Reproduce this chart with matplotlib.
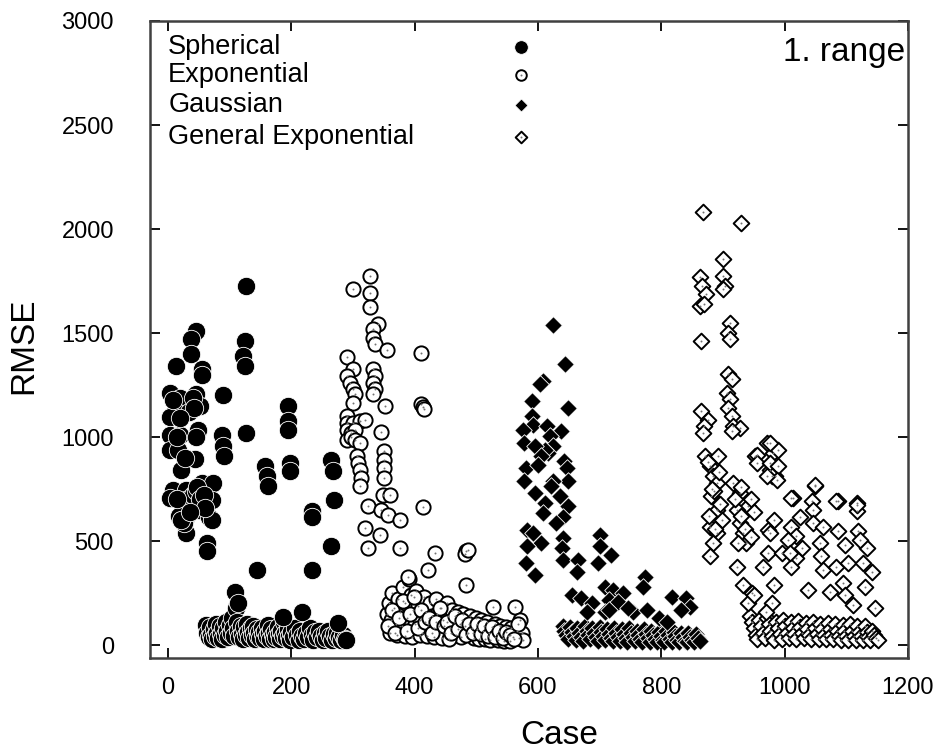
import matplotlib
matplotlib.use('Agg')
import matplotlib.pyplot as plt

plt.rcParams['font.family'] = ['Liberation Sans', 'DejaVu Sans']

# Spherical (cases 0-288), scattered values
sph_case = [126, 46, 38, 38, 13, 55, 55, 125, 122, 125, 3, 19, 46, 90, 52, 11, 3, 49, 3, 19,
            46, 127, 87, 89, 91, 3, 16, 44, 195, 195, 195, 198, 198, 22, 157, 160, 162, 265, 268, 269,
            233, 233, 265, 233, 144, 63, 63, 30, 9, 3, 30, 55, 73, 71, 24, 30, 26, 50, 67, 71,
            109, 114, 217, 187, 276, 8, 15, 35, 40, 42, 20, 28, 33, 36, 40, 45, 48, 52, 58, 60,
            18, 14, 22, 36]
sph_rmse = [1727, 1510, 1470, 1398, 1341, 1325, 1300, 1462, 1388, 1340, 1210, 1190, 1205, 1200, 1150, 1125, 1094, 1036, 1010, 1010,
            1000, 1020, 1009, 955, 907, 940, 940, 895, 1148, 1076, 1036, 876, 835, 843, 860, 811, 766, 891, 839, 699,
            643, 615, 474, 361, 361, 490, 450, 540, 747, 707, 747, 777, 777, 699, 650, 617, 585, 650, 617, 600,
            257, 202, 160, 136, 105, 1180, 1000, 1120, 1190, 1140, 1090, 900, 700, 680, 720, 740, 760, 700, 720, 660,
            620, 700, 600, 640]
# Spherical low band
sph_low_case = [62, 64, 66, 68, 70, 72, 74, 76, 78, 80, 82, 84, 86, 88, 90, 92, 94, 96, 98, 100,
                102, 104, 106, 108, 110, 112, 114, 116, 118, 120, 122, 124, 126, 128, 130, 132, 134, 136, 138, 140,
                142, 144, 146, 148, 150, 152, 154, 156, 158, 160, 162, 164, 166, 168, 170, 172, 174, 176, 178, 180,
                182, 184, 186, 188, 190, 192, 194, 196, 198, 200, 203, 206, 209, 212, 215, 218, 221, 224, 227, 230,
                233, 236, 239, 242, 245, 248, 251, 254, 257, 260, 263, 266, 269, 272, 275, 278, 281, 284, 287, 289]
sph_low_rmse = [95, 60, 40, 85, 50, 30, 75, 45, 100, 60, 35, 90, 55, 30, 80, 50, 110, 70, 40, 95,
                60, 130, 80, 45, 180, 110, 70, 40, 90, 55, 30, 85, 50, 100, 65, 35, 80, 50, 90, 60,
                30, 75, 45, 65, 35, 80, 55, 30, 70, 45, 95, 60, 30, 75, 50, 30, 65, 40, 85, 55,
                30, 70, 45, 110, 60, 35, 75, 45, 25, 65, 40, 80, 50, 25, 70, 45, 30, 60, 40, 80,
                50, 25, 65, 40, 70, 45, 25, 60, 35, 70, 45, 25, 55, 35, 60, 40, 25, 50, 30, 25]

# Exponential (cases 288-576)
exp_case = [327, 300, 327, 327, 341, 333, 333, 336, 355, 290, 411, 300, 333, 336, 333, 336, 333, 290, 295, 300,
            303, 300, 352, 411, 413, 415, 290, 290, 300, 311, 320, 290, 297, 303, 290, 297, 303, 346, 311, 307,
            309, 311, 313, 311, 351, 350, 351, 350, 349, 360, 324, 346, 357, 376, 414, 319, 344, 324, 376, 433,
            484, 482, 486, 422, 389]
exp_rmse = [1775, 1714, 1692, 1623, 1542, 1518, 1478, 1446, 1418, 1386, 1406, 1325, 1325, 1293, 1261, 1229, 1205, 1293, 1261, 1229,
            1205, 1165, 1148, 1157, 1145, 1135, 1100, 1068, 1068, 1075, 1080, 1036, 1020, 1036, 988, 1000, 988, 1023, 972, 907,
            875, 843, 803, 763, 932, 891, 851, 803, 723, 723, 667, 651, 626, 602, 665, 564, 530, 467, 467, 445,
            450, 440, 455, 361, 329]
exp_low_case = [355, 358, 361, 364, 367, 370, 373, 376, 379, 382, 385, 388, 391, 394, 397, 400, 403, 406, 409, 412,
                415, 418, 422, 425, 428, 431, 434, 437, 440, 443, 446, 449, 452, 455, 458, 461, 464, 467, 470, 473,
                476, 479, 482, 484, 487, 490, 493, 496, 499, 502, 505, 508, 511, 514, 517, 520, 523, 527, 530, 533,
                536, 539, 542, 545, 548, 551, 554, 557, 560, 563, 566, 569, 571, 574, 576, 360, 372, 384, 396, 408,
                420, 432, 444, 456, 357, 363, 369, 375, 381, 387, 393, 399, 405, 411, 417, 423, 429, 435, 441, 447,
                453, 459, 465, 471, 477, 483, 489, 495, 501, 507, 513, 519, 525, 531, 537, 543, 549, 555, 561, 567]
exp_low_rmse = [150, 200, 120, 250, 180, 100, 220, 160, 90, 280, 200, 130, 320, 240, 170, 100, 260, 190, 120, 60,
                230, 160, 100, 200, 140, 80, 220, 150, 90, 180, 120, 60, 200, 140, 80, 170, 110, 50, 160, 100,
                40, 150, 90, 289, 60, 140, 80, 35, 130, 75, 30, 120, 70, 30, 110, 60, 25, 185, 100, 55,
                25, 90, 50, 20, 85, 45, 20, 80, 40, 185, 70, 35, 120, 60, 25, 60, 50, 45, 40, 50,
                45, 40, 35, 30, 90, 170, 60, 130, 210, 70, 150, 230, 80, 170, 110, 130, 60, 110, 180, 90,
                110, 60, 140, 75, 120, 50, 100, 60, 100, 55, 90, 45, 85, 40, 70, 35, 65, 50, 30, 100]

# Gaussian (cases 576-864)
gau_case = [625, 644, 609, 603, 590, 649, 590, 592, 576, 578, 580, 577, 614, 637, 620, 625, 616, 611, 595, 605,
            600, 643, 647, 649, 624, 621, 595, 611, 608, 635, 649, 641, 630, 583, 592, 605, 641, 639, 641, 582,
            580, 595, 700, 700, 719, 697, 665, 663, 655, 670, 687, 680, 709, 722, 738, 716, 730, 709, 716, 773,
            771, 817, 840, 846, 832, 754, 777, 796, 809, 746]
gau_rmse = [1537, 1349, 1269, 1253, 1173, 1141, 1100, 1060, 1036, 973, 853, 787, 1052, 1028, 1004, 956, 925, 940, 956, 908,
            868, 884, 852, 787, 787, 763, 731, 683, 635, 715, 667, 618, 586, 554, 538, 490, 514, 466, 410, 474,
            394, 337, 530, 474, 434, 394, 410, 353, 241, 225, 202, 161, 281, 265, 249, 217, 209, 161, 169, 329,
            281, 233, 225, 185, 169, 161, 169, 128, 112, 177]
gau_low_case = [640, 643, 646, 649, 652, 655, 658, 661, 664, 667, 670, 673, 676, 679, 682, 685, 688, 691, 694, 697,
                700, 703, 706, 709, 712, 715, 718, 721, 724, 727, 730, 733, 736, 739, 742, 745, 748, 751, 754, 757,
                760, 763, 766, 769, 772, 775, 778, 781, 784, 787, 790, 793, 796, 799, 802, 805, 808, 811, 814, 817,
                820, 823, 826, 829, 832, 835, 838, 841, 844, 847, 850, 853, 856, 859, 862]
gau_low_rmse = [90, 70, 50, 30, 85, 65, 45, 25, 80, 60, 40, 20, 90, 70, 50, 30, 80, 60, 40, 20,
                85, 65, 45, 25, 75, 55, 35, 20, 80, 60, 40, 20, 75, 55, 35, 15, 80, 60, 40, 20,
                70, 50, 30, 15, 75, 55, 35, 15, 70, 50, 30, 15, 65, 45, 25, 15, 70, 50, 30, 15,
                65, 45, 25, 15, 60, 40, 20, 15, 60, 40, 25, 15, 55, 35, 20]

# General Exponential (cases 864-1152)
gen_case = [867, 929, 900, 900, 904, 900, 863, 866, 873, 863, 870, 911, 909, 911, 865, 908, 914, 906, 911, 908,
            914, 916, 927, 914, 865, 876, 870, 868, 871, 892, 879, 884, 890, 881, 890, 898, 879, 890,
            884, 879, 875, 886, 895, 878, 887, 882, 893, 917, 927, 941, 922, 927, 933, 938, 924, 920,
            930, 952, 971, 981, 976, 984, 990, 976, 955, 955, 976, 990, 979, 987, 971, 1049, 1013, 1044,
            1046, 1087, 1117, 1117, 1025, 1011, 1019, 1006, 982, 973, 976, 1046, 1062, 1087, 1098, 1119, 1133, 1122,
            973, 995, 1019, 1011, 1028, 1009, 965, 1057, 1059, 1062, 1084, 1103, 1127, 1141, 982, 1038, 1073, 1095,
            1098, 1130, 1111, 1146, 947, 941, 980, 970, 922, 932, 950, 1011, 1049, 1084, 1117, 930, 945, 950,
            935, 945]
gen_rmse = [2083, 2027, 1855, 1772, 1727, 1711, 1767, 1727, 1687, 1631, 1639, 1550, 1502, 1470, 1462, 1301, 1277, 1213, 1181, 1141,
            1100, 1052, 1044, 1028, 1124, 1084, 1052, 1020, 907, 907, 859, 811, 779, 715, 651, 602, 570, 538,
            490, 426, 880, 740, 680, 620, 560, 750, 830, 779, 731, 667, 651, 586, 538, 490, 490, 700,
            620, 907, 972, 924, 843, 811, 940, 972, 916, 876, 876, 859, 811, 795, 811, 763, 706, 691,
            651, 691, 683, 643, 618, 570, 522, 506, 602, 554, 538, 586, 570, 546, 482, 546, 466, 506,
            442, 442, 418, 377, 466, 442, 377, 490, 426, 361, 377, 394, 394, 353, 289, 265, 257, 297,
            241, 281, 193, 177, 249, 201, 201, 161, 377, 290, 240, 707, 771, 691, 675, 760, 700, 640,
            560, 520]
gen_low_case = [944, 947, 950, 953, 956, 959, 962, 965, 968, 971, 974, 977, 980, 983, 986, 989, 992, 995, 998, 1001,
                1004, 1007, 1010, 1013, 1016, 1019, 1022, 1025, 1028, 1031, 1034, 1037, 1040, 1043, 1046, 1049, 1052, 1055, 1058, 1061,
                1064, 1067, 1070, 1073, 1076, 1079, 1082, 1085, 1088, 1091, 1094, 1097, 1100, 1103, 1106, 1109, 1112, 1115, 1118, 1121,
                1124, 1127, 1130, 1133, 1136, 1139, 1142, 1145, 1148, 1151]
gen_low_rmse = [140, 110, 80, 50, 30, 120, 90, 60, 35, 130, 100, 70, 45, 25, 110, 80, 55, 30, 120, 90,
                60, 35, 110, 80, 55, 30, 115, 85, 60, 35, 105, 75, 50, 30, 110, 80, 55, 30, 100, 75,
                50, 30, 105, 75, 50, 30, 100, 70, 45, 25, 95, 70, 45, 25, 100, 70, 45, 25, 90, 65,
                45, 25, 90, 65, 40, 25, 70, 50, 35, 25]

labels = ['Spherical', 'Exponential', 'Gaussian', 'General Exponential']
x_ticks = [0, 200, 400, 600, 800, 1000, 1200]
y_ticks = [0, 500, 1000, 1500, 2000, 2500, 3000]

fig = plt.figure(figsize=(9.41, 7.55), dpi=100)
ax = fig.add_axes([0.1594, 0.1285, 0.8055, 0.8437])

sph_style = dict(marker='o', s=175, facecolor='black', edgecolor='white', linewidths=0.6)
exp_style = dict(marker='o', s=105, facecolor='white', edgecolor='black', linewidths=1.4)
gau_style = dict(marker='D', s=80, facecolor='black', edgecolor='white', linewidths=0.6)
gen_style = dict(marker='D', s=64, facecolor='white', edgecolor='black', linewidths=1.4)
dot_style = dict(marker='o', s=2, color='0.45', linewidths=0)

ax.scatter(sph_low_case, sph_low_rmse, **sph_style)
ax.scatter(sph_case, sph_rmse, **sph_style)

ax.scatter(exp_low_case, exp_low_rmse, **exp_style)
ax.scatter(exp_low_case, exp_low_rmse, **dot_style)
ax.scatter(exp_case, exp_rmse, **exp_style)
ax.scatter(exp_case, exp_rmse, **dot_style)

ax.scatter(gau_low_case, gau_low_rmse, **gau_style)
ax.scatter(gau_case, gau_rmse, **gau_style)

ax.scatter(gen_low_case, gen_low_rmse, **gen_style)
ax.scatter(gen_low_case, gen_low_rmse, **dot_style)
ax.scatter(gen_case, gen_rmse, **gen_style)
ax.scatter(gen_case, gen_rmse, **dot_style)

ax.set_xlim(-29, 1200)
ax.set_ylim(-62, 3000)
ax.set_xticks(x_ticks)
ax.set_yticks(y_ticks)
ax.tick_params(direction='in', length=7, width=1.3, top=True, right=True,
               labelsize=17, colors='black')
ax.tick_params(axis='x', pad=14)
ax.tick_params(axis='y', pad=26)
for sp in ax.spines.values():
    sp.set_linewidth(1.8)
    sp.set_color('0.25')

ax.set_xlabel('Case', fontsize=24)
ax.set_ylabel('RMSE', fontsize=24)
# gnuplot centred the x label on the canvas, a bit right of the axes centre
ax.xaxis.set_label_coords(0.54, -0.098)
ax.yaxis.set_label_coords(-0.146, 0.49)

# key, drawn gnuplot-style: text on the left, symbol column further right
key_y = [0.959, 0.915, 0.868, 0.818]
key_styles = [sph_style, exp_style, gau_style, gen_style]
for lab, yy, st in zip(labels, key_y, key_styles):
    ax.text(0.024, yy, lab, transform=ax.transAxes, fontsize=19.5, ha='left', va='center')
    kst = dict(st)
    kst['s'] = st['s'] * 0.55
    ax.scatter([0.489], [yy], transform=ax.transAxes, clip_on=False, **kst)
    if st['facecolor'] == 'white':
        ax.scatter([0.489], [yy], transform=ax.transAxes, clip_on=False, **dot_style)

ax.text(0.996, 0.950, '1. range', transform=ax.transAxes, fontsize=24, ha='right', va='center')

fig.savefig('out.png', dpi=100)
